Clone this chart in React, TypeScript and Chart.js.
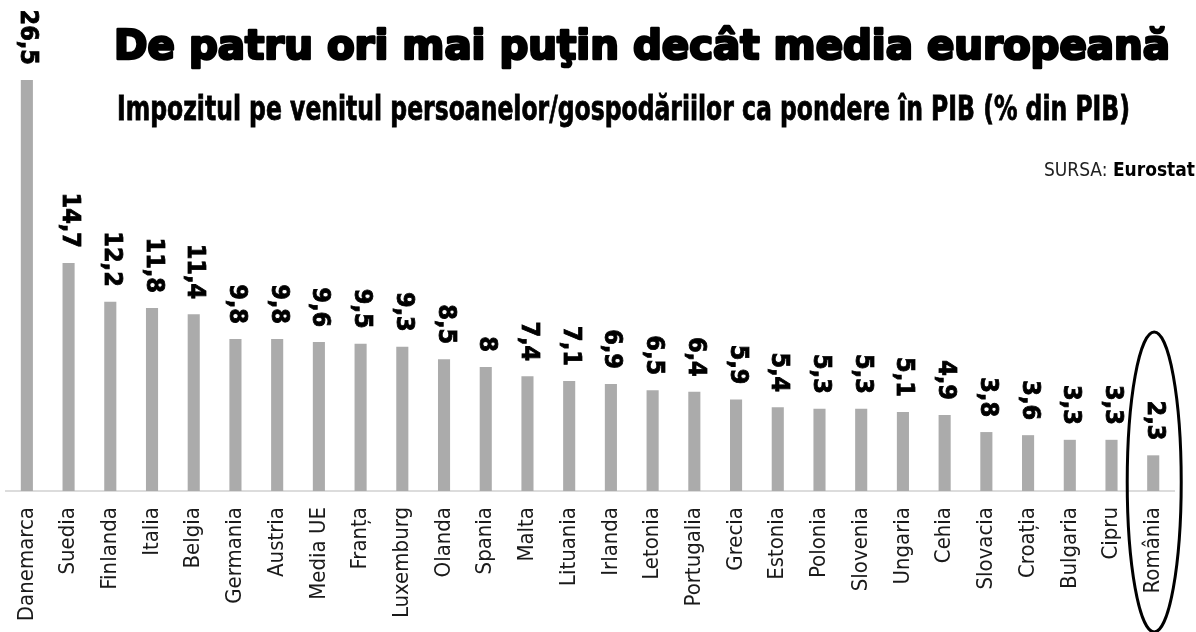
import React, { useEffect, useRef } from "react";
import { Chart, registerables } from "chart.js";

Chart.register(...registerables);

const categories = [
  "Danemarca", "Suedia", "Finlanda", "Italia", "Belgia", "Germania", "Austria",
  "Media UE", "Franța", "Luxemburg", "Olanda", "Spania", "Malta", "Lituania",
  "Irlanda", "Letonia", "Portugalia", "Grecia", "Estonia", "Polonia", "Slovenia",
  "Ungaria", "Cehia", "Slovacia", "Croația", "Bulgaria", "Cipru", "România",
];
const values = [
  26.5, 14.7, 12.2, 11.8, 11.4, 9.8, 9.8, 9.6, 9.5, 9.3, 8.5, 8, 7.4, 7.1,
  6.9, 6.5, 6.4, 5.9, 5.4, 5.3, 5.3, 5.1, 4.9, 3.8, 3.6, 3.3, 3.3, 2.3,
];
const titleText = "De patru ori mai puţin decât media europeană";
const subtitleText =
  "Impozitul pe venitul persoanelor/gospodăriilor ca pondere în PIB (% din PIB)";
const sourceLabel = "SURSA: ";
const sourceName = "Eurostat";
const highlighted = "România";

const fmt = (v: number) => String(v).replace(".", ",");

const decorPlugin = {
  id: "decor",
  afterDatasetsDraw(chart: any) {
    const ctx = chart.ctx;
    const meta = chart.getDatasetMeta(0);
    ctx.save();
    ctx.fillStyle = "#000";
    ctx.strokeStyle = "#000";
    ctx.lineWidth = 0.8;
    ctx.font = "bold 25px 'DejaVu Sans Condensed', 'DejaVu Sans'";
    ctx.textAlign = "right";
    ctx.textBaseline = "middle";
    meta.data.forEach((el: any, i: number) => {
      ctx.save();
      ctx.translate(el.x + 1, el.y - 15);
      ctx.rotate(Math.PI / 2);
      ctx.fillText(fmt(values[i]), 0, 0);
      ctx.strokeText(fmt(values[i]), 0, 0);
      ctx.restore();
    });
    ctx.restore();
  },
  afterDraw(chart: any) {
    const ctx = chart.ctx;
    ctx.save();
    ctx.fillStyle = "#000";
    ctx.strokeStyle = "#000";
    ctx.textBaseline = "alphabetic";
    ctx.textAlign = "left";
    // title
    ctx.font = "bold 40px 'DejaVu Sans'";
    let w = ctx.measureText(titleText).width;
    ctx.save();
    ctx.translate(114, 59);
    ctx.scale(1056 / w, 1);
    ctx.lineWidth = 2.6;
    ctx.lineJoin = "round";
    ctx.fillText(titleText, 0, 0);
    ctx.strokeText(titleText, 0, 0);
    ctx.restore();
    // subtitle
    ctx.font = "bold 34px 'DejaVu Sans Condensed', 'DejaVu Sans'";
    w = ctx.measureText(subtitleText).width;
    ctx.save();
    ctx.translate(117, 120);
    ctx.scale(1013 / w, 1);
    ctx.lineWidth = 0.8;
    ctx.fillText(subtitleText, 0, 0);
    ctx.strokeText(subtitleText, 0, 0);
    ctx.restore();
    // source
    ctx.textAlign = "right";
    ctx.font = "bold 19px 'Liberation Sans Narrow', 'DejaVu Sans Condensed'";
    const wb = ctx.measureText(sourceName).width;
    ctx.fillText(sourceName, 1195, 176);
    ctx.font = "19px 'Liberation Sans Narrow', 'DejaVu Sans Condensed'";
    ctx.fillStyle = "#222";
    ctx.fillText(sourceLabel, 1195 - wb, 176);
    // ellipse around highlighted
    const idx = categories.indexOf(highlighted);
    const el = chart.getDatasetMeta(0).data[idx];
    const yBase = chart.scales.y.getPixelForValue(0);
    ctx.beginPath();
    ctx.lineWidth = 3;
    ctx.strokeStyle = "#000";
    ctx.ellipse(el.x + 1, yBase - 9, 27, 150, 0, 0, Math.PI * 2);
    ctx.stroke();
    ctx.restore();
  },
};

export default function App() {
  const ref = useRef<HTMLCanvasElement>(null);
  useEffect(() => {
    if (!ref.current) return;
    const chart = new Chart(ref.current, {
      type: "bar",
      data: {
        labels: categories,
        datasets: [
          {
            data: values,
            backgroundColor: "#ababab",
            barPercentage: 0.29,
            categoryPercentage: 1,
          },
        ],
      },
      options: {
        animation: false,
        responsive: true,
        maintainAspectRatio: false,
        layout: { padding: { left: 6, right: 21, top: 80, bottom: 0 } },
        plugins: { legend: { display: false }, tooltip: { enabled: false } },
        scales: {
          x: {
            grid: { display: false, drawTicks: false },
            border: { display: true, color: "#dcdcdc", width: 2 },
            afterFit: (s: any) => {
              s.height = 141;
            },
            ticks: {
              autoSkip: false,
              minRotation: 90,
              maxRotation: 90,
              padding: 16,
              color: "#1a1a1a",
              font: { family: "'Liberation Sans Narrow', 'DejaVu Sans Condensed'", size: 22 },
            },
          },
          y: { display: false, min: 0, max: 26.5 },
        },
      },
      plugins: [decorPlugin],
    });
    return () => chart.destroy();
  }, []);
  return (
    <div style={{ position: "absolute", left: 0, top: 0, width: 1196, height: 632, background: "#fff" }}>
      <canvas ref={ref} />
    </div>
  );
}
